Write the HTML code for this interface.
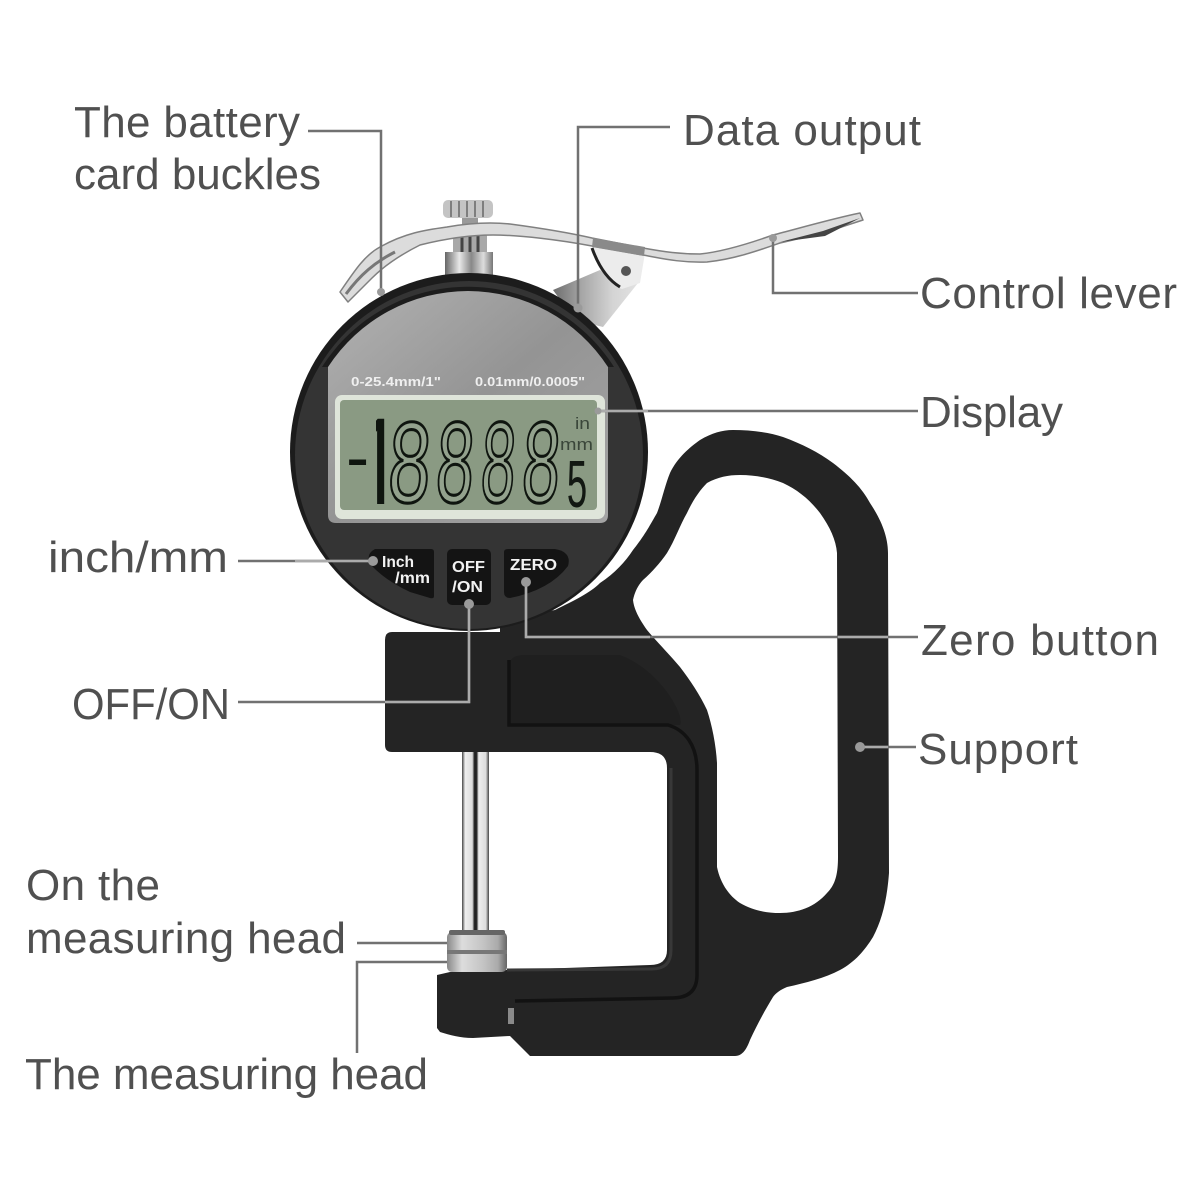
<!DOCTYPE html>
<html><head><meta charset="utf-8"><style>
html,body{margin:0;padding:0;background:#fff}
svg{display:block}
.l{font-family:"Liberation Sans",sans-serif;font-size:44px;fill:#505050}
.b{font-family:"Liberation Sans",sans-serif;font-weight:bold;fill:#f2f2f2;font-size:16px}
.d{font-family:"Liberation Mono",monospace;font-size:100px;fill:#93a28d;stroke:#0f150f;stroke-width:2.6px}
</style></head><body>
<svg width="1200" height="1200" viewBox="0 0 1200 1200" xmlns="http://www.w3.org/2000/svg">
<defs>
<linearGradient id="face" x1="0" y1="0" x2="1" y2="1"><stop offset="0" stop-color="#b2b2b2"/><stop offset=".5" stop-color="#949494"/><stop offset="1" stop-color="#a4a4a4"/></linearGradient>
<linearGradient id="cyl" x1="0" y1="0" x2="1" y2="0"><stop offset="0" stop-color="#666"/><stop offset=".3" stop-color="#e8e8e8"/><stop offset=".55" stop-color="#888"/><stop offset=".8" stop-color="#ddd"/><stop offset="1" stop-color="#777"/></linearGradient>
<linearGradient id="anv" x1="0" y1="0" x2="1" y2="0"><stop offset="0" stop-color="#888"/><stop offset=".25" stop-color="#ddd"/><stop offset=".6" stop-color="#c4c4c4"/><stop offset=".85" stop-color="#aaa"/><stop offset="1" stop-color="#666"/></linearGradient>
<linearGradient id="pin" x1="0" y1="0" x2="1" y2="0"><stop offset="0" stop-color="#444"/><stop offset=".12" stop-color="#eee"/><stop offset=".38" stop-color="#ddd"/><stop offset=".46" stop-color="#222"/><stop offset=".54" stop-color="#222"/><stop offset=".62" stop-color="#eee"/><stop offset=".88" stop-color="#ddd"/><stop offset="1" stop-color="#444"/></linearGradient>
<linearGradient id="plate" x1="0" y1="0" x2="1" y2="0"><stop offset="0" stop-color="#6e6e6e"/><stop offset=".35" stop-color="#a8a8a8"/><stop offset=".7" stop-color="#d4d4d4"/><stop offset="1" stop-color="#e2e2e2"/></linearGradient>
<clipPath id="one"><rect x="376" y="416" width="12" height="88"/></clipPath>
</defs>
<rect width="1200" height="1200" fill="#fff"/>

<!-- frame -->
<path fill-rule="evenodd" fill="#242424" d="M392 632L500 632L500 620L555 610C575 600 590 593 600 583C615 573 625 562 633 550C645 535 650 525 657 513C662 500 665 485 670 473C677 458 690 447 700 440C712 433 722 430 733 430C750 430 768 432 783 437C802 444 818 452 833 463C850 476 862 488 870 503C880 518 888 535 888 553L889 873C887 900 882 920 873 937C865 950 855 962 840 970C825 978 805 983 787 987C780 990 776 993 773 997C765 1010 757 1025 750 1040C747 1048 743 1056 735 1056L530 1056L510 1036L473 1038C460 1038 450 1035 440 1032L437 1028L437 975L450 972L650 965Q667 965 667 950L667 768Q667 752 650 752L392 752Q385 752 385 745L385 640Q385 632 392 632Z M633 600C635 590 640 583 643 580C652 572 660 563 667 553C675 540 680 525 687 513C693 500 700 490 707 483C718 477 728 475 740 475C756 475 770 478 783 483C798 490 810 500 820 513C830 527 836 540 837 553L838 857C838 875 835 885 827 893C815 907 798 913 780 913C765 913 752 910 740 903C728 895 720 882 717 867L717 763C716 745 712 725 707 710C700 695 690 680 680 667C670 655 657 642 647 630C640 620 634 610 633 600Z"/>
<path fill="#1f1f1f" d="M510 662Q512 655 525 655L620 655C660 670 685 715 680 725L510 725Z"/>
<g fill="none" stroke="#121212">
<path stroke-width="3.5" d="M509 660L509 725L668 725C685 730 697 745 697 770L697 975Q697 998 672 998L515 1001"/>
</g>
<path fill="none" stroke="#383838" stroke-width="3" d="M507 970L652 969Q671 969 671 950L671 768"/>

<!-- pin and anvil -->
<rect x="462" y="752" width="27" height="180" fill="url(#pin)"/>
<rect x="447" y="932" width="60" height="40" rx="5" fill="url(#anv)"/>
<rect x="447" y="950" width="60" height="4" fill="#777"/>
<rect x="449" y="930" width="56" height="5" rx="2" fill="#666"/>
<rect x="508" y="1008" width="6" height="16" fill="#8a8a8a"/>

<!-- knob and stem -->
<rect x="443" y="200" width="50" height="18" rx="5" fill="#c4c4c4"/>
<g stroke="#7e7e7e" stroke-width="2"><path d="M451 201V217M459 201V217M467 201V217M475 201V217M483 201V217"/></g>
<rect x="462" y="218" width="16" height="12" fill="#999"/>
<rect x="453" y="232" width="34" height="22" fill="#a8a8a8"/>
<path d="M462 232V254M470 232V254M478 232V254" stroke="#444" stroke-width="3"/>
<path d="M445 252H493V276H445Z" fill="url(#cyl)"/>

<!-- plate and lever -->
<path d="M553 290L600 270L622 287L638 283L603 327L575 320Z" fill="url(#plate)"/>
<path d="M592 245L645 253L640 283L622 289C610 285 600 265 592 245Z" fill="#ececec"/>
<path d="M592 248C597 262 605 278 620 287" fill="none" stroke="#222" stroke-width="3"/>
<circle cx="626" cy="271" r="5" fill="#555"/>
<path d="M340 292C355 270 365 255 380 247C405 233 425 230 447 227C470 223 490 222 510 224C540 228 570 233 592 238L643 248C665 252 680 254 700 254C720 252 745 245 773 235C800 228 835 218 860 213L863 220L823 233L780 243C760 250 735 259 707 262C680 263 660 258 643 255L592 246C560 240 520 235 493 235C465 235 440 240 420 245C400 255 385 265 372 278L348 302Z" fill="#dcdcdc" stroke="#808080" stroke-width="1.5" stroke-linejoin="round"/>
<path d="M346 294C360 275 375 262 395 252" fill="none" stroke="#777" stroke-width="3"/>
<path d="M593 238L645 247L644 256L592 247Z" fill="#8a8a8a"/>
<path d="M780 242L823 231L860 218L825 236Z" fill="#444"/>

<!-- gauge -->
<circle cx="469" cy="452" r="179" fill="#1c1c1c"/>
<circle cx="469" cy="455" r="174" fill="#343434"/>
<path d="M322 367A173 173 0 0 1 614 367Z" fill="#1c1c1c"/>
<path d="M328 367A167 167 0 0 1 608 367L608 515Q608 523 600 523L336 523Q328 523 328 515Z" fill="url(#face)"/>
<text x="351" y="386" font-family="Liberation Sans,sans-serif" font-weight="bold" font-size="12.5" fill="#efefef" textLength="90" lengthAdjust="spacingAndGlyphs">0-25.4mm/1"</text>
<text x="475" y="386" font-family="Liberation Sans,sans-serif" font-weight="bold" font-size="12.5" fill="#efefef" textLength="110" lengthAdjust="spacingAndGlyphs">0.01mm/0.0005"</text>
<rect x="335" y="395" width="270" height="124" rx="7" fill="#dfe5da"/>
<rect x="340" y="400" width="257" height="110" rx="4" fill="#8a9a83"/>
<text font-family="Liberation Mono,monospace" font-size="100" fill="#0f150f" transform="translate(339,481) scale(.62,.7)">-</text>
<g clip-path="url(#one)"><text font-family="Liberation Sans,sans-serif" font-size="100" fill="#0f150f" transform="translate(357,515) scale(.8,1.4)">1</text></g>
<text class="d" transform="translate(385,502) skewX(-3) scale(.76,1.2)">8</text>
<text class="d" transform="translate(433,502) skewX(-3) scale(.68,1.2)">8</text>
<text class="d" transform="translate(478,502) skewX(-3) scale(.62,1.2)">8</text>
<text class="d" transform="translate(519,502) skewX(-3) scale(.68,1.2)">8</text>
<text x="566" y="507" font-family="Liberation Mono,monospace" font-size="70" fill="#121812" textLength="22" lengthAdjust="spacingAndGlyphs">5</text>
<text x="575" y="429" font-family="Liberation Sans,sans-serif" font-size="17" fill="#3a463a" textLength="15" lengthAdjust="spacingAndGlyphs">in</text>
<text x="560" y="450" font-family="Liberation Sans,sans-serif" font-size="17" fill="#3a463a" textLength="33" lengthAdjust="spacingAndGlyphs">mm</text>

<!-- buttons -->
<path d="M375 549L431 549Q434 549 434 552L434 596Q434 599 430 598L410 592Q385 580 372 566Q364 555 375 549Z" fill="#141414"/>
<rect x="447" y="549" width="44" height="56" rx="5" fill="#141414"/>
<path d="M508 549L555 549Q572 552 568 566Q550 590 510 598Q504 598 504 592L504 552Q504 549 508 549Z" fill="#141414"/>
<text class="b" x="382" y="567" textLength="32" lengthAdjust="spacingAndGlyphs">Inch</text>
<text class="b" x="395" y="583" textLength="35" lengthAdjust="spacingAndGlyphs">/mm</text>
<text class="b" x="452" y="572" textLength="33" lengthAdjust="spacingAndGlyphs">OFF</text>
<text class="b" x="452" y="592" textLength="31" lengthAdjust="spacingAndGlyphs">/ON</text>
<text class="b" x="510" y="570" textLength="47" lengthAdjust="spacingAndGlyphs">ZERO</text>

<!-- leaders -->
<g fill="none" stroke="#717171" stroke-width="2.5">
<path d="M308 131H381V292"/>
<path d="M670 127H578V308"/>
<path d="M918 293H773V238"/>
<path d="M918 411H598"/>
<path d="M238 561H372"/>
<path d="M918 637H526V582"/>
<path d="M238 702H469V604"/>
<path d="M916 747H860"/>
<path d="M357 943H447"/>
<path d="M357 1053V962H447"/>
</g>
<g fill="none" stroke="#ababab" stroke-width="2.5">
<path d="M650 637H526V582"/><path d="M838 637H888"/><path d="M385 702H469V604"/><path d="M295 561H372"/><path d="M598 411H648"/><path d="M860 747H888"/>
</g>
<g fill="#9a9a9a"><circle cx="381" cy="292" r="4"/><circle cx="578" cy="308" r="4.5"/><circle cx="773" cy="238" r="4"/><circle cx="598" cy="411" r="3.5"/><circle cx="373" cy="561" r="5"/><circle cx="526" cy="582" r="5"/><circle cx="469" cy="604" r="5"/><circle cx="860" cy="747" r="5"/></g>

<!-- labels -->
<text class="l" x="74" y="137" textLength="226">The battery</text>
<text class="l" x="74" y="189" textLength="247">card buckles</text>
<text class="l" x="683" y="145" textLength="238">Data output</text>
<text class="l" x="920" y="308" textLength="257">Control lever</text>
<text class="l" x="920" y="427" textLength="143">Display</text>
<text class="l" x="48" y="572" textLength="180" lengthAdjust="spacingAndGlyphs">inch/mm</text>
<text class="l" x="921" y="655" textLength="238">Zero button</text>
<text class="l" x="72" y="719" textLength="158" lengthAdjust="spacingAndGlyphs">OFF/ON</text>
<text class="l" x="918" y="764" textLength="160">Support</text>
<text class="l" x="26" y="900" textLength="134">On the</text>
<text class="l" x="26" y="953" textLength="320">measuring head</text>
<text class="l" x="25" y="1089" textLength="403">The measuring head</text>
</svg>
</body></html>
